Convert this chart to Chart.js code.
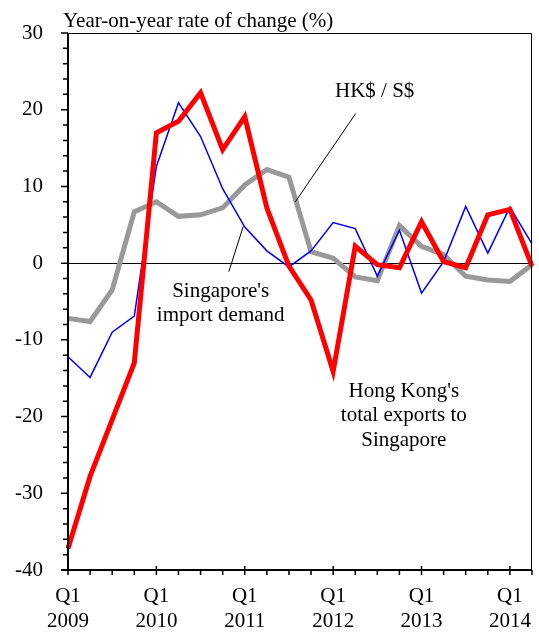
<!DOCTYPE html>
<html>
<head>
<meta charset="utf-8">
<script src="https://cdn.jsdelivr.net/npm/chart.js@4/dist/chart.umd.min.js"></script>
<style>
  html, body { margin: 0; padding: 0; background: #fff; }
  #chart { display: block; }
</style>
</head>
<body>
<canvas id="chart" width="539" height="635" style="width:539px;height:635px"></canvas>
<script>
const quarters = [
    "Q1 2009", "Q2 2009", "Q3 2009", "Q4 2009",
    "Q1 2010", "Q2 2010", "Q3 2010", "Q4 2010",
    "Q1 2011", "Q2 2011", "Q3 2011", "Q4 2011",
    "Q1 2012", "Q2 2012", "Q3 2012", "Q4 2012",
    "Q1 2013", "Q2 2013", "Q3 2013", "Q4 2013",
    "Q1 2014", "Q2 2014",
];

// Hong Kong's total exports to Singapore
const hkExports = [-37.2, -27.8, -20.4, -13.0, 17.0, 18.5, 22.2, 14.8, 19.1, 7.2, -0.4,
    -4.8, -14.1, 2.2, -0.2, -0.6, 5.4, 0.2, -0.6, 6.3, 7.0, -0.4];

// Singapore's import demand
const importDemand = [-12.2, -14.9, -9.0, -6.9, 12.6, 20.9, 16.5, 9.7, 4.7, 1.6, -0.5,
    1.6, 5.3, 4.5, -1.7, 4.3, -3.9, 0.2, 7.4, 1.3, 7.3, 2.5];

// HK$ / S$
const hkdPerSgd = [-7.2, -7.6, -3.5, 6.7, 8.0, 6.1, 6.3, 7.2, 10.2, 12.2, 11.2,
    1.5, 0.65, -1.8, -2.3, 4.9, 2.2, 1.1, -1.7, -2.2, -2.4, -0.2];

const yMin = -40;
const yMax = 30;
const yMajorStep = 10;
const yMinorStep = 2;

const FONT = '"Liberation Serif", "Times New Roman", serif';

// labels placed in data units: [x index, y value]
const notes = [
    { lines: ["HK$ / S$"], at: [13.88, 21.65], leader: [[13.02, 19.5], [10.29, 8.0]] },
    { lines: ["Singapore's", "import demand"], at: [6.91, -4.36], leader: [[7.93, 4.77], [7.28, -1.1]] },
    { lines: ["Hong Kong's", "total exports to", "Singapore"], at: [15.2, -17.4], leader: null },
];

const overlay = {
    id: "overlay",
    beforeDatasetsDraw(chart) {
        const { ctx, chartArea: a, scales: { y } } = chart;
        const y0 = Math.round(y.getPixelForValue(0)) + 0.5;
        ctx.save();
        ctx.strokeStyle = "#000";
        ctx.lineWidth = 1;
        ctx.beginPath();
        ctx.moveTo(a.left, y0);
        ctx.lineTo(a.right, y0);
        ctx.stroke();
        ctx.restore();
    },
    afterDraw(chart) {
        const { ctx, chartArea: a, scales: { x, y } } = chart;
        ctx.save();
        ctx.strokeStyle = "#000";

        // top and right border
        ctx.lineWidth = 1;
        ctx.beginPath();
        ctx.moveTo(a.left, a.top + 0.5);
        ctx.lineTo(a.right - 0.5, a.top + 0.5);
        ctx.lineTo(a.right - 0.5, a.bottom);
        ctx.stroke();

        // axes
        ctx.lineWidth = 2;
        ctx.beginPath();
        ctx.moveTo(a.left, a.top);
        ctx.lineTo(a.left, a.bottom);
        ctx.moveTo(a.left - 7, a.bottom);
        ctx.lineTo(a.right, a.bottom);
        ctx.stroke();

        // y ticks
        ctx.lineWidth = 1.5;
        ctx.beginPath();
        for (let v = yMin; v <= yMax; v += yMinorStep) {
            const py = y.getPixelForValue(v);
            const len = v % yMajorStep === 0 ? 7 : 5;
            ctx.moveTo(a.left - len, py);
            ctx.lineTo(a.left, py);
        }
        ctx.stroke();

        // x ticks
        ctx.beginPath();
        quarters.forEach((q, i) => {
            const px = x.getPixelForValue(i);
            if (i % 4 === 0) {
                ctx.moveTo(px, a.bottom - 4);
                ctx.lineTo(px, a.bottom + 5);
            } else {
                ctx.moveTo(px, a.bottom);
                ctx.lineTo(px, a.bottom + 5);
            }
        });
        ctx.stroke();

        // leader lines
        ctx.lineWidth = 1;
        for (const n of notes) {
            if (!n.leader) continue;
            ctx.beginPath();
            ctx.moveTo(x.getPixelForValue(n.leader[0][0]), y.getPixelForValue(n.leader[0][1]));
            ctx.lineTo(x.getPixelForValue(n.leader[1][0]), y.getPixelForValue(n.leader[1][1]));
            ctx.stroke();
        }

        // texts
        ctx.fillStyle = "#000";
        ctx.font = "21px " + FONT;
        ctx.textBaseline = "alphabetic";
        ctx.textAlign = "center";
        for (const n of notes) {
            const cx = x.getPixelForValue(n.at[0]);
            const by = y.getPixelForValue(n.at[1]);
            n.lines.forEach((line, k) => ctx.fillText(line, cx, by + k * 24.5));
        }

        ctx.textAlign = "left";
        ctx.fillText("Year-on-year rate of change (%)", a.left - 5, 26.7);
        ctx.restore();
    },
};

new Chart(document.getElementById("chart"), {
    type: "line",
    data: {
        labels: quarters,
        datasets: [
            {
                label: "Hong Kong's total exports to Singapore",
                data: hkExports,
                borderColor: "#ff0000",
                borderWidth: 5,
            },
            {
                label: "Singapore's import demand",
                data: importDemand,
                borderColor: "#0000ff",
                borderWidth: 1.5,
            },
            {
                label: "HK$ / S$",
                data: hkdPerSgd,
                borderColor: "#999999",
                borderWidth: 5,
            },
        ],
    },
    options: {
        responsive: false,
        animation: false,
        devicePixelRatio: 1,
        layout: { padding: { left: 0, right: 7, top: 33, bottom: 0 } },
        elements: {
            point: { radius: 0, hoverRadius: 0 },
            line: { tension: 0, borderJoinStyle: "miter", fill: false },
        },
        plugins: {
            legend: { display: false },
            tooltip: { enabled: false },
        },
        scales: {
            x: {
                type: "category",
                offset: false,
                grid: { display: false, drawTicks: false },
                border: { display: false },
                afterFit(scale) {
                    scale.height = 65;
                    scale.paddingLeft = 0;
                    scale.paddingRight = 0;
                },
                ticks: {
                    autoSkip: false,
                    maxRotation: 0,
                    padding: 14,
                    color: "#000",
                    font: { family: FONT, size: 21, lineHeight: 1.2 },
                    callback(value, index) {
                        return index % 4 === 0 ? quarters[index].split(" ") : "";
                    },
                },
            },
            y: {
                min: yMin,
                max: yMax,
                grid: { display: false, drawTicks: false },
                border: { display: false },
                afterFit(scale) {
                    scale.width = 68;
                    scale.paddingTop = 0;
                    scale.paddingBottom = 0;
                },
                ticks: {
                    stepSize: yMinorStep,
                    autoSkip: false,
                    padding: 25,
                    color: "#000",
                    font: { family: FONT, size: 21 },
                    callback(value) {
                        return value % yMajorStep === 0 ? value : "";
                    },
                },
            },
        },
    },
    plugins: [overlay],
});
</script>
</body>
</html>
